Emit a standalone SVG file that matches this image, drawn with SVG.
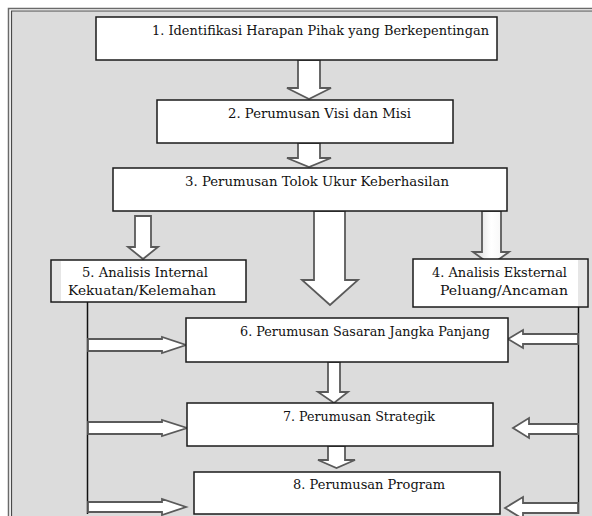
<svg xmlns="http://www.w3.org/2000/svg" width="592" height="516" viewBox="0 0 592 516">
  <defs>
    <linearGradient id="shade" x1="0" y1="0" x2="1" y2="0">
      <stop offset="0" stop-color="#d4d4d4"/>
      <stop offset="0.5" stop-color="#ffffff"/>
      <stop offset="1" stop-color="#f2f2f2"/>
    </linearGradient>
  </defs>
  <style>
    .box { fill: #ffffff; stroke: #1a1a1a; stroke-width: 1.5; }
    .strip { fill: #e6e6e6; }
    text { font-family: "DejaVu Serif", "Liberation Serif", serif; font-size: 13.5px; fill: #111111; }
    .arr { fill: #ffffff; stroke: #5a5a5a; stroke-width: 1.8; stroke-linejoin: miter; }
    .line { stroke: #111111; stroke-width: 1.5; fill: none; }
  </style>

  <!-- page background and framed panel -->
  <rect x="0" y="0" width="592" height="516" fill="#ffffff"/>
  <rect x="11" y="11" width="581" height="505" fill="#dcdcdc"/>
  <path d="M8.5 516 V8.5 H592" fill="none" stroke="#6a6a6a" stroke-width="1.5"/>
  <path d="M11.5 516 V11 H592" fill="none" stroke="#4a4a4a" stroke-width="1.2"/>

  <!-- connectors -->
  <g id="connectors">
    <!-- feedback rails -->
    <line class="line" x1="87.5" y1="302" x2="87.5" y2="514"/>
    <line class="line" x1="578.5" y1="307" x2="578.5" y2="514"/>

    <!-- vertical block arrows -->
    <polygon class="arr" points="298,60 320,60 320,88 331,88 309,99 287,88 298,88"/>
    <polygon class="arr" points="298,143 320,143 320,158 331,158 309,167 287,158 298,158"/>
    <polygon class="arr" points="135,216 151,216 151,247 158,247 143,259 128,247 135,247"/>
    <polygon class="arr" points="314,211 345,211 345,280 358,280 330,305 302,280 314,280"/>
    <polygon class="arr" style="fill:url(#shade)" points="482,211 501,211 501,252 509,252 491,265 473,252 482,252"/>
    <polygon class="arr" points="328,362 340,362 340,392 348,392 334,403 318,392 328,392"/>
    <polygon class="arr" points="328,446 345,446 345,460 355,460 336.5,468 318,460 328,460"/>

    <!-- rail arrows from the left (internal analysis) -->
    <polygon class="arr" points="88,339 162,339 162,337 186,345 162,353 162,351 88,351"/>
    <polygon class="arr" points="88,422 162,422 162,420 187,428 162,436 162,434 88,434"/>
    <polygon class="arr" points="88,502 162,502 162,499 186,507 162,515 162,512 88,512"/>

    <!-- rail arrows from the right (external analysis) -->
    <polygon class="arr" points="578,334 523,334 523,330 508,339 523,348 523,344 578,344"/>
    <polygon class="arr" points="578,424 529,424 529,418 513,428 529,438 529,434 578,434"/>
    <polygon class="arr" points="578,503 523,503 523,497 505,508 523,519 523,513 578,513"/>
  </g>

  <g id="n1">
    <rect class="box" x="96" y="17" width="401" height="43"/>
    <text x="152" y="35" textLength="337" lengthAdjust="spacingAndGlyphs">1. Identifikasi Harapan Pihak yang Berkepentingan</text>
  </g>

  <g id="n2">
    <rect class="box" x="157" y="100" width="296" height="43"/>
    <text x="228" y="118" textLength="183" lengthAdjust="spacingAndGlyphs">2. Perumusan Visi dan Misi</text>
  </g>

  <g id="n3">
    <rect class="box" x="113" y="168" width="394" height="43"/>
    <text x="185" y="186" textLength="264" lengthAdjust="spacingAndGlyphs">3. Perumusan Tolok Ukur Keberhasilan</text>
  </g>

  <g id="n5">
    <rect class="box" x="51" y="260" width="195" height="42"/>
    <rect class="strip" x="52" y="261" width="9" height="40"/>
    <text x="82" y="277" textLength="126" lengthAdjust="spacingAndGlyphs">5. Analisis Internal</text>
    <text x="68" y="295" textLength="148" lengthAdjust="spacingAndGlyphs">Kekuatan/Kelemahan</text>
  </g>

  <g id="n4">
    <rect class="box" x="413" y="259" width="175" height="48"/>
    <rect class="strip" x="578" y="260" width="9" height="46"/>
    <text x="432" y="277" textLength="135" lengthAdjust="spacingAndGlyphs">4. Analisis Eksternal</text>
    <text x="440" y="295" textLength="128" lengthAdjust="spacingAndGlyphs">Peluang/Ancaman</text>
  </g>

  <g id="n6">
    <rect class="box" x="186" y="318" width="322" height="44"/>
    <text x="240" y="336" textLength="250" lengthAdjust="spacingAndGlyphs">6. Perumusan Sasaran Jangka Panjang</text>
  </g>

  <g id="n7">
    <rect class="box" x="187" y="403" width="306" height="43"/>
    <text x="283" y="421" textLength="152" lengthAdjust="spacingAndGlyphs">7. Perumusan Strategik</text>
  </g>

  <g id="n8">
    <rect class="box" x="194" y="472" width="306" height="42"/>
    <text x="293" y="489" textLength="152" lengthAdjust="spacingAndGlyphs">8. Perumusan Program</text>
  </g>
</svg>
